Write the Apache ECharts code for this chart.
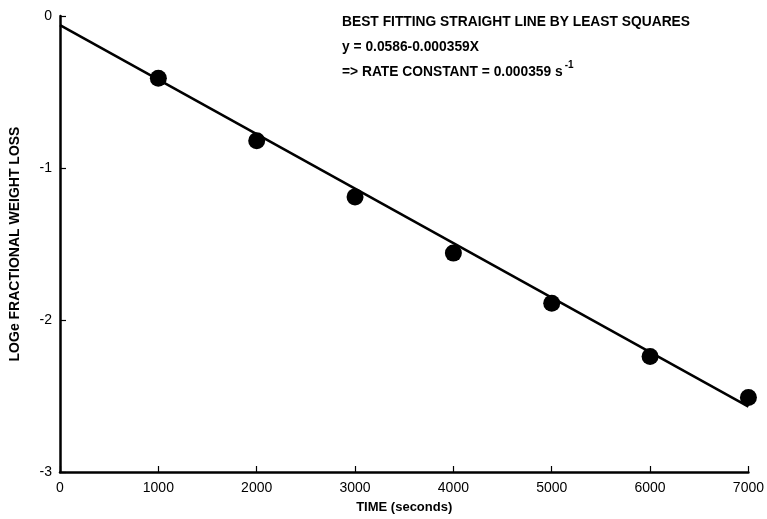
<!DOCTYPE html>
<html>
<head>
<meta charset="utf-8">
<script src="https://cdn.jsdelivr.net/npm/echarts@6/dist/echarts.min.js"></script>
<style>
  html, body { margin: 0; padding: 0; background: #fff; }
  #chart { width: 767px; height: 519px; }
</style>
</head>
<body>
<div id="chart"></div>
<script>
// measured points (time s, loge fractional weight loss)
const times = [1000, 2000, 3000, 4000, 5000, 6000, 7000]
const lossValues = [-0.41, -0.82, -1.19, -1.56, -1.89, -2.24, -2.51]
// least squares line end points as drawn
const fitTimes = [0, 7000]
const fitValues = [-0.06, -2.57]
const noteLines = [
  'BEST FITTING STRAIGHT LINE BY LEAST SQUARES',
  'y = 0.0586-0.000359X',
  '=> RATE CONSTANT = 0.000359 s'
]

const font = '"Liberation Sans", Arial, sans-serif'
const chart = echarts.init(document.getElementById('chart'))

const option = {
  backgroundColor: '#fff',
  animation: false,
  grid: { left: 58, right: 15, top: 16, bottom: 47 },
  xAxis: {
    type: 'value',
    min: 0,
    max: 7000,
    interval: 1000,
    name: 'TIME (seconds)',
    nameLocation: 'middle',
    nameGap: 29,
    nameTextStyle: { color: '#000', fontSize: 13, fontWeight: 600, fontFamily: font },
    axisLine: { onZero: false, lineStyle: { color: '#000', width: 2.5 } },
    axisTick: { inside: true, length: 6, lineStyle: { color: '#000', width: 1.2 } },
    axisLabel: { color: '#000', fontSize: 14, fontFamily: font, margin: 9, formatter: v => String(v) },
    splitLine: { show: false }
  },
  yAxis: {
    type: 'value',
    min: -3,
    max: 0,
    interval: 1,
    name: 'LOGe FRACTIONAL WEIGHT LOSS',
    nameLocation: 'middle',
    nameGap: 38,
    nameTextStyle: { color: '#000', fontSize: 14, fontWeight: 600, fontFamily: font },
    axisLine: { onZero: false, lineStyle: { color: '#000', width: 2.5 } },
    axisTick: { inside: true, length: 6, lineStyle: { color: '#000', width: 1.2 } },
    axisLabel: { color: '#000', fontSize: 14, fontFamily: font, margin: 8 },
    splitLine: { show: false }
  },
  graphic: [
    {
      type: 'text',
      left: 342,
      top: 10,
      style: {
        text: noteLines[0] + '\n' + noteLines[1] + '\n' + noteLines[2] + '{sup|-1}',
        fill: '#000',
        font: '600 13.8px ' + font,
        lineHeight: 25,
        rich: {
          sup: { fontSize: 10, fontWeight: 600, verticalAlign: 'top', padding: [0, 0, 8, 2], fill: '#000' }
        }
      }
    }
  ],
  series: [
    {
      type: 'line',
      data: fitTimes.map((t, i) => [t, fitValues[i]]),
      symbol: 'none',
      lineStyle: { color: '#000', width: 2.5 },
      z: 2
    },
    {
      type: 'scatter',
      data: times.map((t, i) => [t, lossValues[i]]),
      symbol: 'circle',
      symbolSize: 17,
      itemStyle: { color: '#000', opacity: 1 },
      z: 3
    }
  ]
}

chart.setOption(option)
</script>
</body>
</html>
